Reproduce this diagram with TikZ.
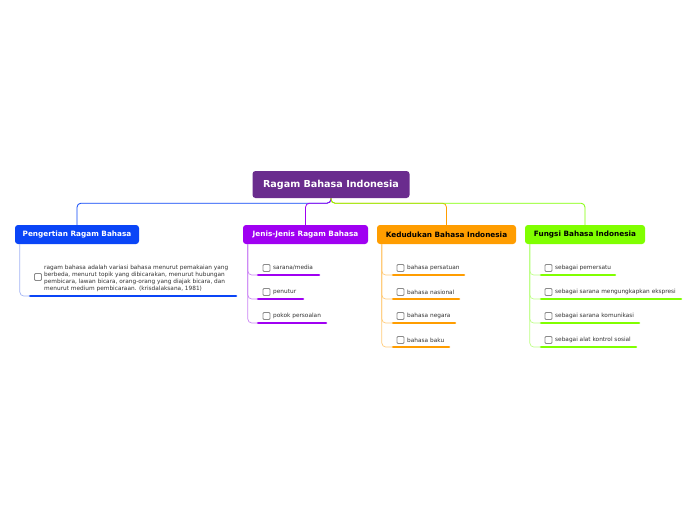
\documentclass[tikz,border=0pt]{standalone}
\usepackage{fontspec}
\setmainfont{DejaVu Sans}
\definecolor{rootc}{HTML}{6A2C8E}
\definecolor{bluec}{HTML}{0A45F7}
\definecolor{purpc}{HTML}{A000F2}
\definecolor{orangec}{HTML}{FF9D00}
\definecolor{greenc}{HTML}{80FF00}
\definecolor{bluel}{HTML}{A3B5F5}
\definecolor{purpl}{HTML}{CC85F5}
\definecolor{orangel}{HTML}{FFCB78}
\definecolor{greenl}{HTML}{BDFF85}
\definecolor{itemtext}{HTML}{333333}
\definecolor{chkc}{HTML}{8A8A8A}
\begin{document}
\begin{tikzpicture}[x=1pt,y=-1pt,
  rootbox/.style={rounded corners=3pt, fill=rootc, text=white, font=\bfseries\fontsize{9.6}{11}\selectfont, minimum width=157pt, minimum height=27pt, inner sep=0pt},
  childbox/.style={rounded corners=3pt, minimum height=19pt, inner sep=0pt, font=\bfseries\fontsize{7.3}{8}\selectfont},
  chk/.style={draw=chkc, fill=white, rounded corners=1pt, line width=0.8pt, minimum size=7pt, inner sep=0pt},
  itemlbl/.style={anchor=west, inner sep=0pt, text=itemtext, font=\fontsize{5.8}{7}\selectfont},
  ul/.style={line width=2.6pt, line cap=round},
  link/.style={line width=0.8pt, rounded corners=4pt},
  sublink/.style={line width=0.7pt, rounded corners=4pt}]
\useasboundingbox (0,0) rectangle (696,520);
\fill[white] (0,0) rectangle (696,520);

% root and children
\node[rootbox] (root) at (331,184.5) {Ragam Bahasa Indonesia};
\node[childbox, fill=bluec, text=white, minimum width=124pt] (c1) at (77,234.5) {Pengertian Ragam Bahasa};
\node[childbox, fill=purpc, text=white, minimum width=125pt] (c2) at (305.5,234.5) {Jenis-Jenis Ragam Bahasa};
\node[childbox, fill=orangec, text=black, minimum width=139pt] (c3) at (446.5,234.5) {Kedudukan Bahasa Indonesia};
\node[childbox, fill=greenc, text=black, minimum width=120pt] (c4) at (585,234.5) {Fungsi Bahasa Indonesia};

\draw[link, bluec] (root.south) -- ++(0,5) -| (c1.north);
\draw[link, purpc] (root.south) -- ++(0,5) -| (c2.north);
\draw[link, orangec] (root.south) -- ++(0,5) -| (c3.north);
\draw[link, greenc] (root.south) -- ++(0,5) -| (c4.north);

% Pengertian item
\node[chk] (k11) at (38,277) {};
\node[itemlbl, align=left, anchor=west] (t11) at (44,278) {ragam bahasa adalah variasi bahasa menurut pemakaian yang\\berbeda, menurut topik yang dibicarakan, menurut hubungan\\pembicara, lawan bicara, orang-orang yang diajak bicara, dan\\menurut medium pembicaraan. (krisdalaksana, 1981)};
\coordinate (u11s) at (30,296);
\coordinate (u11e) at (236,296);
\draw[ul, bluec] (u11s) -- (u11e);
\draw[sublink, bluel] ([xshift=5pt]c1.south west) |- (u11s);

% Jenis items
\foreach \i/\t/\e [count=\n] in {0/sarana\slash media/319, 1/penutur/303, 2/pokok persoalan/326}{
  \node[chk] (k2\n) at (266.5,268+24*\i) {};
  \node[itemlbl] (t2\n) at (273,268+24*\i) {\t};
  \coordinate (u2\n s) at (258,275+24*\i);
  \coordinate (u2\n e) at (\e,275+24*\i);
  \draw[ul, purpc] (u2\n s) -- (u2\n e);
  \draw[sublink, purpl] ([xshift=5pt]c2.south west) |- (u2\n s);
}

% Kedudukan items
\foreach \i/\t/\e [count=\n] in {0/bahasa persatuan/464, 1/bahasa nasional/459, 2/bahasa negara/455, 3/bahasa baku/449}{
  \node[chk] (k3\n) at (400.5,268+24*\i) {};
  \node[itemlbl] (t3\n) at (407,268+24*\i) {\t};
  \coordinate (u3\n s) at (393,275+24*\i);
  \coordinate (u3\n e) at (\e,275+24*\i);
  \draw[ul, orangec] (u3\n s) -- (u3\n e);
  \draw[sublink, orangel] ([xshift=5pt]c3.south west) |- (u3\n s);
}

% Fungsi items
\foreach \i/\t/\e [count=\n] in {0/sebagai pemersatu/615, 1/sebagai sarana mengungkapkan ekspresi/681, 2/sebagai sarana komunikasi/639, 3/sebagai alat kontrol sosial/636}{
  \node[chk] (k4\n) at (548.5,268+24*\i) {};
  \node[itemlbl] (t4\n) at (555,268+24*\i) {\t};
  \coordinate (u4\n s) at (541,275+24*\i);
  \coordinate (u4\n e) at (\e,275+24*\i);
  \draw[ul, greenc] (u4\n s) -- (u4\n e);
  \draw[sublink, greenl] ([xshift=5pt]c4.south west) |- (u4\n s);
}
\end{tikzpicture}
\end{document}
